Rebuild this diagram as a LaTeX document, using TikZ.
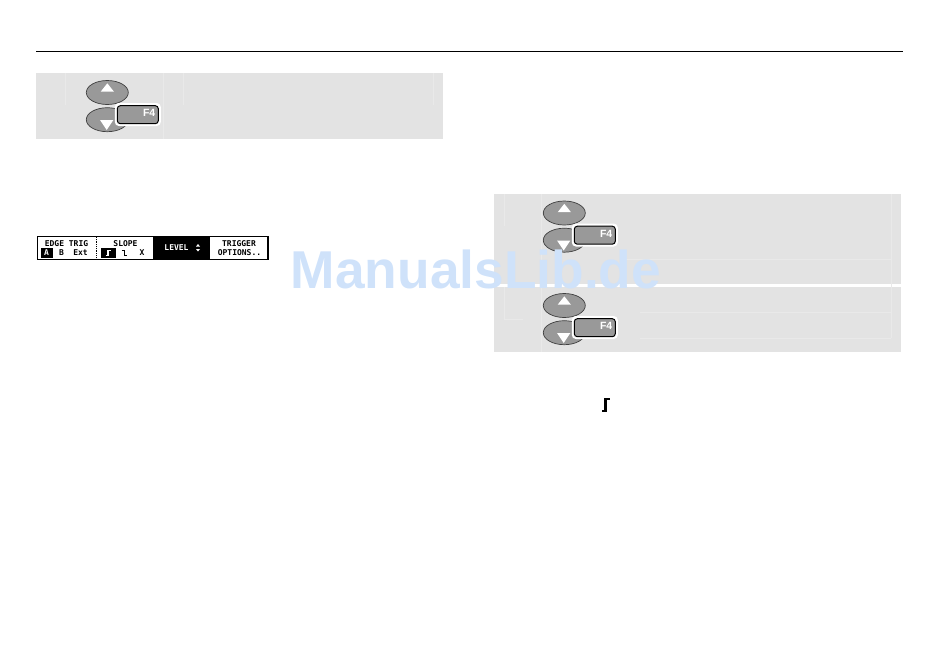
\documentclass[tikz,border=0pt]{standalone}
\usepackage{fontspec}
\setmainfont{Liberation Sans}
\newfontfamily\lcdfont{DejaVu Sans Mono}
\definecolor{panelgray}{HTML}{E3E3E3}
\definecolor{faintgray}{HTML}{E9E9E9}
\definecolor{keygray}{HTML}{999999}
\definecolor{markblue}{HTML}{CFE2FA}
\usetikzlibrary{shapes.geometric}
\tikzset{
	x=1pt,y=-1pt,
	panel/.style={fill=panelgray},
	faint/.style={draw=faintgray,line width=0.6pt},
	arrowkey/.style={ellipse,draw=black!75,line width=0.7pt,fill=keygray,minimum width=42pt,minimum height=24pt,inner sep=0pt},
	fkey/.style={rectangle,rounded corners=3pt,draw=black,line width=1pt,fill=keygray,minimum width=41pt,minimum height=18pt,inner sep=0pt,outer sep=0pt},
	halo/.style={rectangle,rounded corners=4pt,fill=white,minimum width=46pt,minimum height=23pt,inner sep=0pt},
	fkeytext/.style={font=\bfseries\fontsize{10.5}{10.5}\selectfont,text=white,inner sep=0pt},
	lcdtext/.style={font=\lcdfont\bfseries\fontsize{8}{8}\selectfont,inner sep=0pt},
	lcdinv/.style={lcdtext,fill=black,text=white,minimum width=12pt,minimum height=9.5pt},
}
% one pair of arrow keys with the F4 key on top; #1 = prefix, #2 = shift
\def\ARROWKEYS#1#2{
	\begin{scope}[shift={#2}]
		\node[arrowkey] (#1up) at (107.3,92.5) {};
		\node[arrowkey] (#1down) at (107.3,119.7) {};
		\fill[white] (107.3,83.3) -- (114,91.7) -- (100.7,91.7) -- cycle;
		\fill[white] (100,120) -- (113.4,120) -- (106.7,130) -- cycle;
		\node[halo] (#1halo) at (137.8,114.5) {};
		\node[fkey] (#1key) at (137.8,114.7) {};
		\node[fkeytext,anchor=east] (#1label) at (155.5,113) {F4};
	\end{scope}
}
\begin{document}
\begin{tikzpicture}
	\useasboundingbox (0,0) rectangle (950,646);
	\draw[line width=1pt] (36,51.5) -- (903,51.5);
	% panels
	\fill[panel] (36,73) rectangle (443,139);
	\fill[panel] (494,194) rectangle (901,283.7);
	\fill[panel] (494,286.7) rectangle (901,351.7);
	% faint table lines
	\draw[faint] (65.3,73) -- (65.3,105);
	\draw[faint] (163,73) -- (163,139);
	\draw[faint] (183,73) -- (183,105);
	\draw[faint] (433,73) -- (433,105);
	\draw[faint] (504.7,194) -- (504.7,226);
	\draw[faint] (541.7,194) -- (541.7,352);
	\draw[faint] (620,259) -- (891,259);
	\draw[faint] (891,194) -- (891,338);
	\draw[faint] (504.7,287) -- (504.7,319) -- (523,319);
	\draw[faint] (640,312.3) -- (891,312.3);
	\draw[faint] (640,338) -- (891,338);
	% keys
	\ARROWKEYS{a}{(0,0)}
	\ARROWKEYS{b}{(457,120.5)}
	\ARROWKEYS{c}{(457,213)}
	% softkey menu
	\draw[line width=1.2pt] (37.5,236.5) rectangle (268,259.5);
	\fill[black] (153.3,236.5) rectangle (210.3,259.5);
	\draw[densely dotted,line width=0.8pt] (96,237) -- (96,259);
	\node[lcdtext] (edgetrig) at (66.5,243.5) {EDGE TRIG};
	\node[lcdinv] (chana) at (46.5,253) {A};
	\node[lcdtext] (chanb) at (61.5,253) {B};
	\node[lcdtext] (chanext) at (80.5,253) {Ext};
	\node[lcdtext] (slope) at (125.5,243.5) {SLOPE};
	\fill[black] (100.5,248) rectangle (116,257.5);
	\draw[white,line width=1.2pt] (105.5,255.5) -- (108,255.5) -- (108,250.5) -- (111,250.5);
	\draw[line width=1.2pt] (121.5,250.5) -- (124.5,250.5) -- (124.5,255.5) -- (127,255.5);
	\node[lcdtext] (slopeboth) at (142,253) {X};
	\node[lcdtext,text=white] (level) at (176.5,248) {LEVEL};
	\fill[white] (196,246.5) -- (198,244) -- (200,246.5) -- cycle;
	\fill[white] (196,249) -- (200,249) -- (198,251.5) -- cycle;
	\node[lcdtext] (trigger) at (239,243.5) {TRIGGER};
	\node[lcdtext] (options) at (239.5,253) {OPTIONS..};
	% step symbol
	\draw[line width=2.4pt] (602,411) -- (605.5,411) -- (605.5,399) -- (610,399);
	% watermark
	\node[font=\bfseries\fontsize{53.3}{53.3}\selectfont,text=markblue,inner sep=0pt] (watermark) at (476,269) {ManualsLib.de};
\end{tikzpicture}
\end{document}
